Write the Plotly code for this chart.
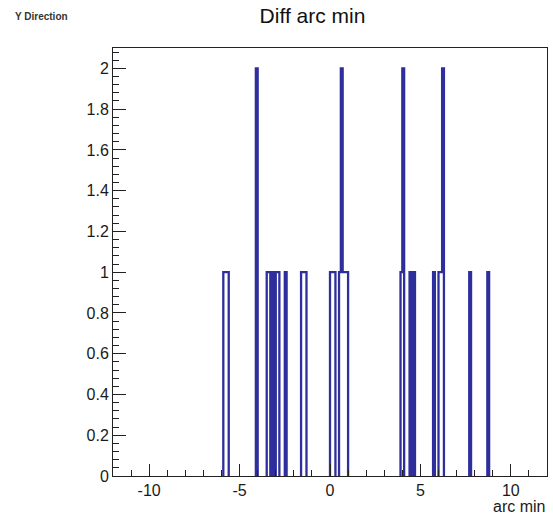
import numpy as np
import plotly.graph_objects as go

# ---- data ----
title_text = "Diff arc min"
corner_label = "Y Direction"
x_title = "arc min"

bin_low, bin_high, n_bins = -12.0, 12.0, 240

# centres of the non-empty bins (arc min) and their entries
bin_centers = [-5.85, -5.75, -5.65, -4.05, -3.45, -3.35, -3.15, -2.95, -2.85, -2.45,
               -1.55, -1.45, -1.35, 0.05, 0.15, 0.25, 0.55, 0.65, 0.75, 0.85, 0.95,
               3.95, 4.05, 4.45, 4.65, 5.75, 6.05, 6.15, 6.25, 7.75, 8.75]
bin_counts = [1, 1, 1, 2, 1, 1, 1, 1, 1, 1,
              1, 1, 1, 1, 1, 1, 1, 2, 1, 1, 1,
              1, 2, 1, 1, 1, 1, 1, 2, 1, 1]

x_tick_vals = [-10, -5, 0, 5, 10]
x_tick_text = ["-10", "-5", "0", "5", "10"]

y_max = 2.1

# ---- build ROOT-like histogram outline ----
width = (bin_high - bin_low) / n_bins
edges = np.linspace(bin_low, bin_high, n_bins + 1)
counts = np.zeros(n_bins)
for c, n in zip(bin_centers, bin_counts):
    counts[int(round((c - bin_low) / width - 0.5))] += n

xs, ys = [], []
i = 0
while i < n_bins:
    if counts[i] > 0:
        xs.append(edges[i]); ys.append(0)
        j = i
        while j < n_bins and counts[j] > 0:
            xs.append(edges[j]); ys.append(counts[j])
            xs.append(edges[j + 1]); ys.append(counts[j])
            j += 1
        xs.append(edges[j]); ys.append(0)
        xs.append(None); ys.append(None)
        i = j
    else:
        i += 1

fig = go.Figure()
fig.add_trace(go.Scatter(x=xs, y=ys, mode="lines",
                         line=dict(color="#2e2e9c", width=2.3),
                         hoverinfo="skip", showlegend=False))

font_main = "Liberation Sans, Arial, sans-serif"

fig.update_layout(
    width=553, height=519,
    margin=dict(l=113, r=6, t=48, b=43),
    paper_bgcolor="white", plot_bgcolor="white",
    font=dict(family=font_main, size=16, color="#1a1a1a"),
    title=dict(text=title_text, x=312.5 / 553, xref="container", xanchor="center",
               y=1 - 16 / 519, yref="container", yanchor="middle",
               font=dict(family=font_main, size=21, color="#111")),
    showlegend=False,
)

fig.update_xaxes(
    range=[bin_low, bin_high], showgrid=False, zeroline=False,
    showline=True, linecolor="#222", linewidth=1, mirror=True,
    ticks="inside", ticklen=12, tickcolor="#222", tickwidth=1,
    tickmode="array", tickvals=x_tick_vals, ticktext=x_tick_text,
    minor=dict(ticks="inside", ticklen=6, tickcolor="#222", dtick=1, tick0=0, showgrid=False),
    tickfont=dict(size=16, family=font_main, color="#1a1a1a"),
)
fig.update_yaxes(
    range=[0, y_max], showgrid=False, zeroline=False,
    showline=True, linecolor="#222", linewidth=1, mirror=True,
    ticks="inside", ticklen=13, tickcolor="#222", tickwidth=1,
    tick0=0, dtick=0.2,
    minor=dict(ticks="inside", ticklen=6, tickcolor="#222", dtick=0.04, tick0=0, showgrid=False),
    tickfont=dict(size=16, family=font_main, color="#1a1a1a"),
)

fig.add_annotation(text=x_title, xref="paper", yref="paper", x=1, y=0,
                   xanchor="right", yanchor="middle", yshift=-30, showarrow=False,
                   font=dict(family=font_main, size=16, color="#1a1a1a"))
fig.add_annotation(text="<b>" + corner_label + "</b>", xref="paper", yref="paper",
                   x=(13 - 113) / 434, y=(476 - 17) / 428,
                   xanchor="left", yanchor="middle", showarrow=False,
                   font=dict(family=font_main, size=10, color="#333"))

fig.write_html("out.html")
